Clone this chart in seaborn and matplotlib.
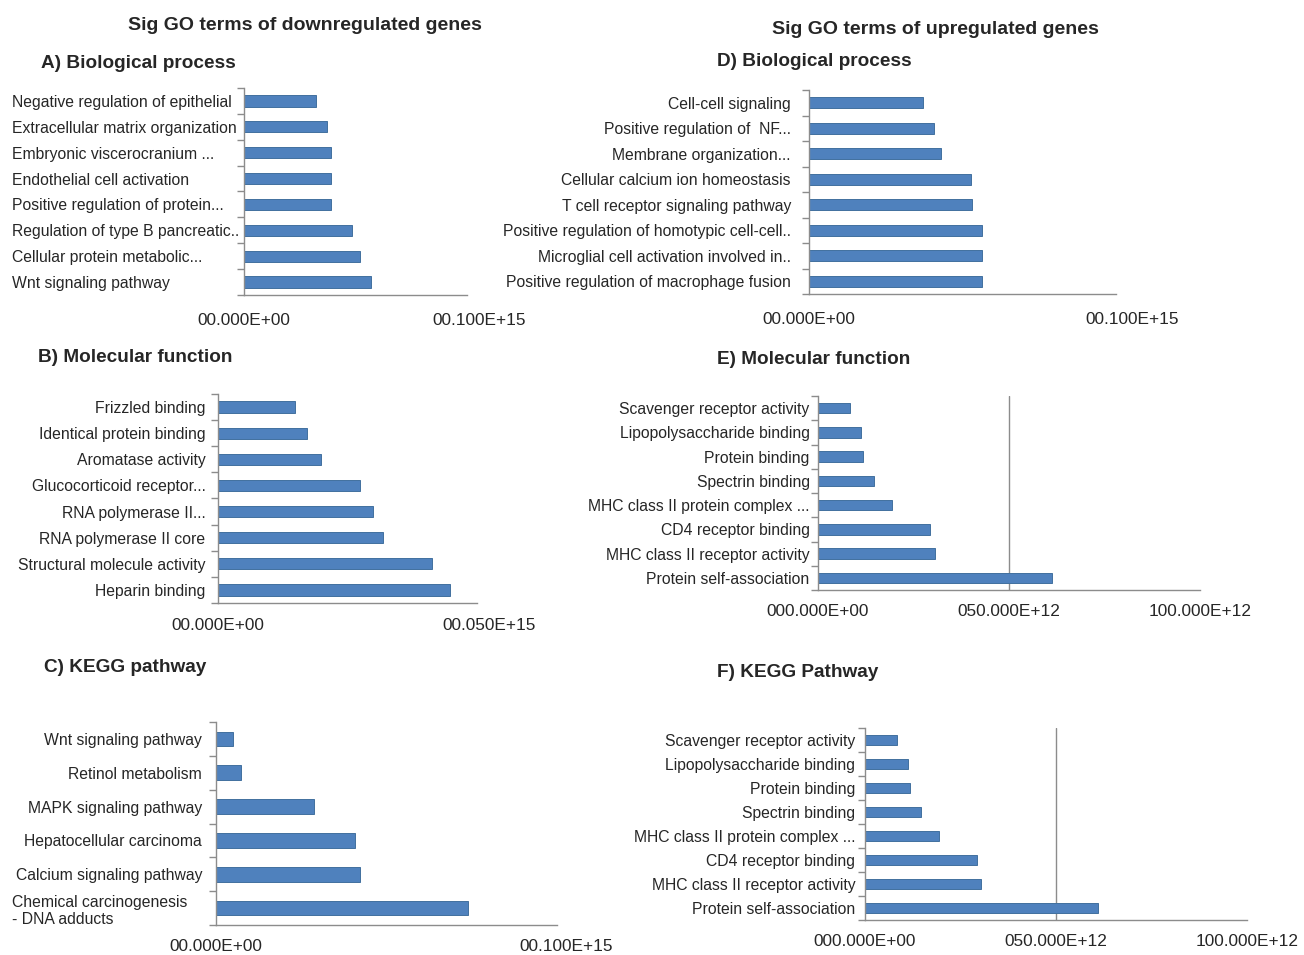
import matplotlib
matplotlib.use("Agg")
import numpy as np
import matplotlib.pyplot as plt
import matplotlib.transforms as mtransforms
import seaborn as sns
from matplotlib.ticker import FixedLocator

# ---- data ----
bp_down_terms = ["Negative regulation of epithelial", "Extracellular matrix organization",
                 "Embryonic viscerocranium ...", "Endothelial cell activation",
                 "Positive regulation of protein...", "Regulation of type B pancreatic..",
                 "Cellular protein metabolic...", "Wnt signaling pathway"]
bp_down_vals = [3.23e13, 3.72e13, 3.9e13, 3.9e13, 3.9e13, 4.84e13, 5.2e13, 5.7e13]

mf_down_terms = ["Frizzled binding", "Identical protein binding", "Aromatase activity",
                 "Glucocorticoid receptor...", "RNA polymerase II...", "RNA polymerase II core",
                 "Structural molecule activity", "Heparin binding"]
mf_down_vals = [1.49e13, 1.71e13, 1.99e13, 2.74e13, 3.0e13, 3.19e13, 4.13e13, 4.47e13]

kegg_down_terms = ["Wnt signaling pathway", "Retinol metabolism", "MAPK signaling pathway",
                   "Hepatocellular carcinoma", "Calcium signaling pathway",
                   "Chemical carcinogenesis\n- DNA adducts"]
kegg_down_vals = [0.49e13, 0.73e13, 2.88e13, 4.07e13, 4.23e13, 7.4e13]

bp_up_terms = ["Cell-cell signaling", "Positive regulation of  NF...", "Membrane organization...",
               "Cellular calcium ion homeostasis", "T cell receptor signaling pathway",
               "Positive regulation of homotypic cell-cell..",
               "Microglial cell activation involved in..",
               "Positive regulation of macrophage fusion"]
bp_up_vals = [3.72e13, 4.08e13, 4.3e13, 5.27e13, 5.3e13, 5.63e13, 5.63e13, 5.63e13]

mf_up_terms = ["Scavenger receptor activity", "Lipopolysaccharide binding", "Protein binding",
               "Spectrin binding", "MHC class II protein complex ...", "CD4 receptor binding",
               "MHC class II receptor activity", "Protein self-association"]
mf_up_vals = [8.4e12, 11.3e12, 11.7e12, 14.7e12, 19.5e12, 29.3e12, 30.5e12, 61.2e12]

kegg_up_terms = list(mf_up_terms)
kegg_up_vals = [8.4e12, 11.3e12, 11.7e12, 14.6e12, 19.5e12, 29.3e12, 30.4e12, 61.0e12]

ticks_e15 = ["00.000E+00", "00.100E+15"]
ticks_e15_half = ["00.000E+00", "00.050E+15"]
ticks_e12 = ["000.000E+00", "050.000E+12", "100.000E+12"]

BLUE = "#4F81BD"
EDGE = "#41709F"
GRAY = "#8C8C8C"
W, H = 1304, 955

sns.set_style("white")
plt.rcParams["font.family"] = ["Liberation Sans", "DejaVu Sans"]

fig = plt.figure(figsize=(W / 100, H / 100), dpi=100)


def px_rect(left, top, right, bottom):
    return [left / W, 1 - bottom / H, (right - left) / W, (bottom - top) / H]


def panel(rect, terms, vals, xmax, labels, ypad, xpad, align="right", grid=False,
          last_shift=0):
    ax = fig.add_axes(px_rect(*rect))
    sns.barplot(x=vals, y=terms, orient="h", color=BLUE, width=0.43,
                saturation=1, edgecolor=EDGE, linewidth=0.7, ax=ax)
    n = len(terms)
    ax.set_ylim(n - 0.5, -0.5)
    ax.set_xlim(0, xmax)
    ax.set_xticks(np.linspace(0, xmax, len(labels)))
    ax.set_xticklabels(labels, fontsize=12.4)
    ax.set_xlabel("")
    ax.set_ylabel("")
    ax.yaxis.set_minor_locator(FixedLocator(np.arange(-0.5, n, 1.0)))
    ax.xaxis.set_minor_locator(FixedLocator([0]))
    ax.tick_params(axis="y", which="major", length=0, pad=ypad, labelsize=11.3)
    ax.tick_params(axis="y", which="minor", left=True, length=5, color=GRAY, width=1)
    ax.tick_params(axis="x", which="major", length=0, pad=xpad)
    ax.tick_params(axis="x", which="minor", bottom=True, length=6, color=GRAY, width=1)
    for s in ["top", "right"]:
        ax.spines[s].set_visible(False)
    for s in ["left", "bottom"]:
        ax.spines[s].set_color(GRAY)
        ax.spines[s].set_linewidth(1)
    if align == "left":
        for t in ax.get_yticklabels():
            t.set_ha("left")
    if last_shift:
        t = ax.get_xticklabels()[-1]
        t.set_transform(t.get_transform()
                        + mtransforms.ScaledTranslation(last_shift / 100, 0, fig.dpi_scale_trans))
    if grid:
        ax.xaxis.grid(True, color=GRAY, linewidth=1)
        gl = ax.get_xgridlines()
        gl[0].set_visible(False)
        gl[-1].set_visible(False)
    return ax


panel((244, 88, 467, 295), bp_down_terms, bp_down_vals, 1e14, ticks_e15,
      ypad=167, xpad=13, align="left", last_shift=12)
panel((218, 394, 477, 603), mf_down_terms, mf_down_vals, 5e13, ticks_e15_half,
      ypad=9, xpad=11, last_shift=12)
axc = panel((216, 722, 557, 925), kegg_down_terms, kegg_down_vals, 1e14, ticks_e15,
            ypad=10, xpad=10, last_shift=9)
# the two-line KEGG label is left aligned at the figure margin
chem = axc.get_yticklabels()[-1]
chem.set_multialignment("left")
chem.set_ha("left")
chem.set_transform(axc.get_yaxis_transform(which="tick1")
                   + mtransforms.ScaledTranslation(-(216 - 12) / 100, 0, fig.dpi_scale_trans))

panel((809, 90, 1116, 294), bp_up_terms, bp_up_vals, 1e14, ticks_e15,
      ypad=13, xpad=13, last_shift=16)
panel((818, 396, 1200, 590), mf_up_terms, mf_up_vals, 1e14, ticks_e12,
      ypad=6, xpad=10, grid=True)
panel((865, 728, 1247, 920), kegg_up_terms, kegg_up_vals, 1e14, ticks_e12,
      ypad=7, xpad=10, grid=True)

title_kw = dict(fontsize=14, fontweight="bold", va="center")
fig.text(305 / W, 1 - 26 / H, "Sig GO terms of downregulated genes", ha="center", **title_kw)
fig.text(935 / W, 1 - 29 / H, "Sig GO terms of upregulated genes", ha="center", **title_kw)

sub_kw = dict(fontsize=13.7, fontweight="bold", va="center", ha="left")
fig.text(41 / W, 1 - 64 / H, "A) Biological process", **sub_kw)
fig.text(38 / W, 1 - 357 / H, "B) Molecular function", **sub_kw)
fig.text(44 / W, 1 - 667 / H, "C) KEGG pathway", **sub_kw)
fig.text(717 / W, 1 - 61 / H, "D) Biological process", **sub_kw)
fig.text(717 / W, 1 - 360 / H, "E) Molecular function", **sub_kw)
fig.text(717 / W, 1 - 672 / H, "F) KEGG Pathway", **sub_kw)

fig.savefig("out.png", dpi=100)
